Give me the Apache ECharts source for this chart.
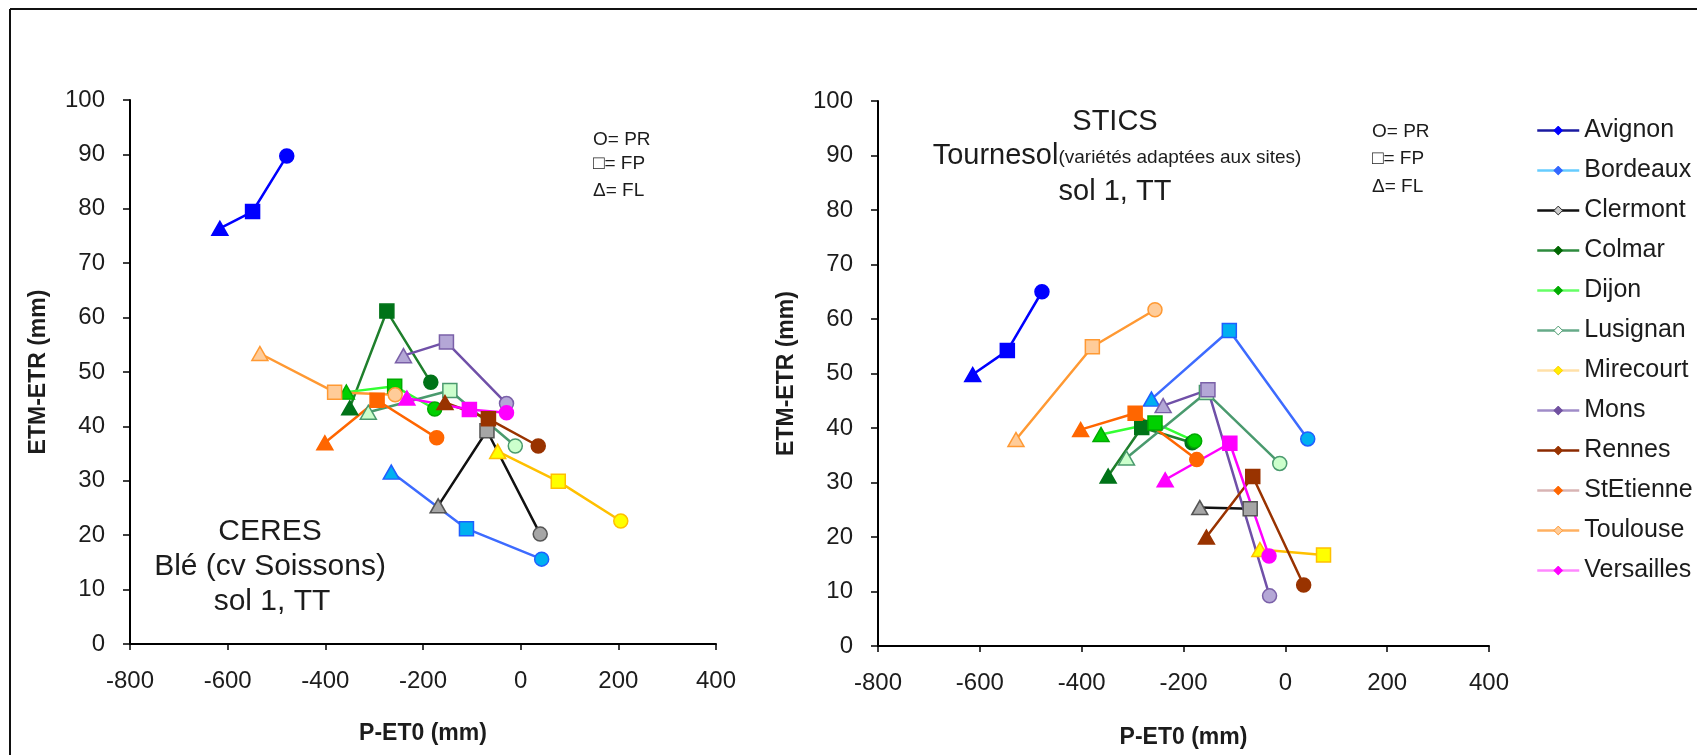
<!DOCTYPE html>
<html>
<head>
<meta charset="utf-8">
<script src="https://cdn.jsdelivr.net/npm/echarts@6/dist/echarts.min.js"></script>
<style>
  html, body { margin: 0; padding: 0; background: #fff; }
  #chart { width: 1697px; height: 755px; }
</style>
</head>
<body>
<div id="chart"></div>
<script>
var sites = ['Avignon', 'Bordeaux', 'Clermont', 'Colmar', 'Dijon', 'Lusignan',
  'Mirecourt', 'Mons', 'Rennes', 'StEtienne', 'Toulouse', 'Versailles'];
// stades : FL (triangle), FP (carre), PR (cercle)
var stages = ['FL', 'FP', 'PR'];
var xTicks = [-800, -600, -400, -200, 0, 200, 400];
var yTicks = [0, 10, 20, 30, 40, 50, 60, 70, 80, 90, 100];

// CERES - ble : P-ET0 par site [FL, FP, PR]
var ceresX = [
  [-616, -549, -479],
  [-265, -111, 43],
  [-169, -69, 40],
  [-350, -274, -184],
  [-357, -258, -176],
  [-312, -145, -11],
  [-47, 77, 205],
  [-240, -152, -29],
  [-155, -66, 36],
  [-401, -294, -172],
  [-534, -381, -257],
  [-233, -105, -29]
];
// CERES - ble : ETM-ETR
var ceresY = [
  [76.4, 79.5, 89.7],
  [31.6, 21.2, 15.6],
  [25.4, 39.2, 20.2],
  [43.4, 61.2, 48.1],
  [46.3, 47.4, 43.2],
  [42.6, 46.6, 36.4],
  [35.4, 29.9, 22.6],
  [53.0, 55.5, 44.2],
  [44.4, 41.4, 36.4],
  [37.0, 44.8, 37.9],
  [53.4, 46.3, 45.8],
  [45.2, 43.1, 42.5]
];
// STICS - tournesol : P-ET0 (pas de PR pour Clermont et Mirecourt)
var sticsX = [
  [-614, -546, -478],
  [-263, -110, 44],
  [-168, -69],
  [-348, -282, -183],
  [-362, -256, -178],
  [-312, -155, -11],
  [-50, 75],
  [-240, -152, -31],
  [-155, -64, 36],
  [-402, -295, -174],
  [-529, -379, -256],
  [-236, -109, -32]
];
var sticsY = [
  [49.8, 54.2, 65.0],
  [45.3, 57.9, 38.0],
  [25.4, 25.2],
  [31.2, 40.1, 37.3],
  [38.8, 40.9, 37.6],
  [34.5, 46.5, 33.5],
  [17.7, 16.7],
  [44.1, 47.0, 9.2],
  [20.0, 31.1, 11.2],
  [39.7, 42.7, 34.2],
  [37.9, 54.9, 61.7],
  [30.5, 37.2, 16.5]
];

var stageSymbols = { FL: 'triangle', FP: 'rect', PR: 'circle' };
var lineColors = ['#0000ff', '#3d6bff', '#111111', '#1f7f2c', '#33ff33', '#4a9a6e',
  '#ffc000', '#7050a8', '#993300', '#ff6600', '#ff9933', '#ff00ff'];
var fillColors = ['#0000ff', '#00b0f0', '#a6a6a6', '#007318', '#00d000', '#ccffcc',
  '#ffff00', '#b4a7d6', '#993300', '#ff6600', '#ffcc99', '#ff00ff'];
var borderColors = ['#0000ff', '#1f5fff', '#555555', '#007318', '#00aa00', '#4a9a6e',
  '#ffc000', '#7a60a8', '#993300', '#ff6600', '#ff9933', '#ff00ff'];
var legendLines = ['#1a1aa0', '#66ccff', '#111111', '#2e8b3e', '#66ff66', '#66aa88',
  '#ffe0a8', '#a08cc8', '#8b2a00', '#d8b4b4', '#ffb060', '#ff88ff'];
var legendMarks = ['#0000ff', '#3366ff', '#cccccc', '#006600', '#00aa00', '#ffffff',
  '#ffee00', '#7050a0', '#993300', '#ff6600', '#ffcc99', '#ff00ff'];
var legendBorders = ['#0000ff', '#3366ff', '#222222', '#006600', '#00aa00', '#4a9a6e',
  '#ffcc00', '#7050a0', '#993300', '#ff6600', '#ff9933', '#ff00ff'];

var FONT = "'Liberation Sans', Arial, sans-serif";
var TXT = '#1c1c1c';

function buildSeries(xs, ys, idx) {
  return sites.map(function (name, i) {
    var pts = xs[i].map(function (x, k) {
      var st = stages[k];
      return {
        value: [x, ys[i][k]],
        symbol: stageSymbols[st],
        symbolSize: st === 'FL' ? [16, 14] : 14
      };
    });
    return {
      type: 'line',
      name: name,
      xAxisIndex: idx,
      yAxisIndex: idx,
      data: pts,
      symbol: 'diamond',
      showSymbol: true,
      lineStyle: { color: lineColors[i], width: 2.5 },
      itemStyle: { color: fillColors[i], borderColor: borderColors[i], borderWidth: 1.5 },
      emphasis: { disabled: true }
    };
  });
}

function xAxisCfg(idx, gap) {
  return {
    type: 'value', gridIndex: idx, min: xTicks[0], max: xTicks[xTicks.length - 1], interval: 200,
    name: 'P-ET0 (mm)', nameLocation: 'middle', nameGap: gap,
    nameTextStyle: { fontSize: 23, fontWeight: 'bold', fontFamily: FONT, color: TXT },
    axisLine: { onZero: false, lineStyle: { color: '#000', width: 2 } },
    axisTick: { show: true, length: 6, lineStyle: { color: '#000', width: 1.5 } },
    axisLabel: { fontSize: 24, fontFamily: FONT, color: TXT, margin: 25 },
    splitLine: { show: false }
  };
}

function yAxisCfg(idx) {
  return {
    type: 'value', gridIndex: idx, min: yTicks[0], max: yTicks[yTicks.length - 1], interval: 10,
    name: 'ETM-ETR (mm)', nameLocation: 'middle', nameGap: 80,
    nameTextStyle: { fontSize: 23, fontWeight: 'bold', fontFamily: FONT, color: TXT },
    axisLine: { show: true, onZero: false, lineStyle: { color: '#000', width: 2 } },
    axisTick: { show: true, length: 7, lineStyle: { color: '#000', width: 1.5 } },
    axisLabel: { fontSize: 24, fontFamily: FONT, color: TXT, margin: 25 },
    splitLine: { show: false }
  };
}

function txt(x, y, s, size, align) {
  return {
    type: 'text', x: x, y: y, silent: true,
    style: { text: s, fontSize: size, fontFamily: FONT, fill: TXT,
      align: align || 'center', verticalAlign: 'middle' }
  };
}

var myChart = echarts.init(document.getElementById('chart'), null, { renderer: 'canvas' });

var option = {
  animation: false,
  backgroundColor: '#ffffff',
  grid: [
    { left: 130, top: 100, width: 586, height: 544 },
    { left: 878, top: 101, width: 611, height: 545 }
  ],
  xAxis: [xAxisCfg(0, 78), xAxisCfg(1, 80)],
  yAxis: [yAxisCfg(0), yAxisCfg(1)],
  legend: {
    orient: 'vertical',
    left: 1531,
    top: 113,
    itemWidth: 42,
    itemHeight: 11,
    itemGap: 15,
    textStyle: { fontSize: 25, fontFamily: FONT, color: TXT },
    data: sites.map(function (name, i) {
      return {
        name: name,
        lineStyle: { color: legendLines[i], width: 2.5 },
        itemStyle: { color: legendMarks[i], borderColor: legendBorders[i], borderWidth: 1 }
      };
    })
  },
  graphic: [
    // cadre (haut et gauche)
    { type: 'line', silent: true, shape: { x1: 10, y1: 9, x2: 1697, y2: 9 },
      style: { stroke: '#111', lineWidth: 2 } },
    { type: 'line', silent: true, shape: { x1: 10, y1: 9, x2: 10, y2: 755 },
      style: { stroke: '#111', lineWidth: 2 } },
    // legende des stades, graphique de gauche
    txt(593, 140, 'O= PR', 19, 'left'),
    txt(593, 164, '\u25A1= FP', 19, 'left'),
    txt(593, 191, '\u0394= FL', 19, 'left'),
    // legende des stades, graphique de droite
    txt(1372, 132, 'O= PR', 19, 'left'),
    txt(1372, 159, '\u25A1= FP', 19, 'left'),
    txt(1372, 187, '\u0394= FL', 19, 'left'),
    // CERES
    txt(270, 532, 'CERES', 30),
    txt(270, 567, 'Blé (cv Soissons)', 30),
    txt(272, 602, 'sol 1, TT', 30),
    // STICS
    txt(1115, 122, 'STICS', 29),
    {
      type: 'text', x: 1117, y: 156, silent: true,
      style: {
        text: '{a|Tournesol}{b|(variétés adaptées aux sites)}',
        align: 'center', verticalAlign: 'middle', fill: TXT, fontFamily: FONT,
        rich: {
          a: { fontSize: 29, fontFamily: FONT, fill: TXT },
          b: { fontSize: 19, fontFamily: FONT, fill: TXT, padding: [4, 0, 0, 0] }
        }
      }
    },
    txt(1115, 192, 'sol 1, TT', 29)
  ],
  series: buildSeries(ceresX, ceresY, 0).concat(buildSeries(sticsX, sticsY, 1))
};

myChart.setOption(option);
</script>
</body>
</html>
